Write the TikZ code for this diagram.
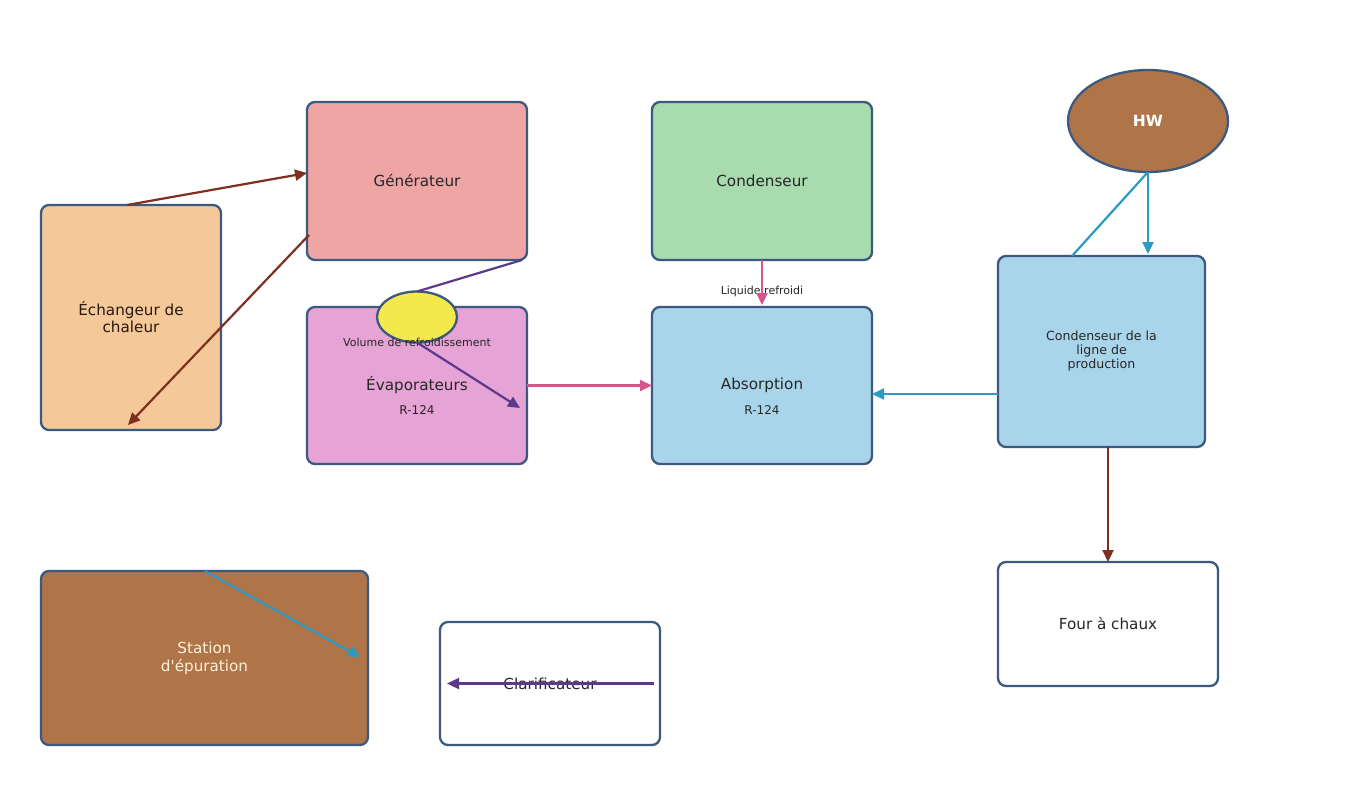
\documentclass[tikz,border=0pt]{standalone}
\usepackage{fontspec}
\setmainfont{DejaVu Sans}
\usetikzlibrary{arrows.meta,shapes.geometric}
\definecolor{edgec}{HTML}{3C5A80}
\definecolor{peach}{HTML}{F5C89A}
\definecolor{genpink}{HTML}{F0A5A5}
\definecolor{condgreen}{HTML}{A8DCAE}
\definecolor{evapc}{HTML}{E6A3D6}
\definecolor{absblue}{HTML}{A9D5EB}
\definecolor{brownfill}{HTML}{B07449}
\definecolor{yellowc}{HTML}{F3E94D}
\definecolor{brownarr}{HTML}{7D3020}
\definecolor{purpc}{HTML}{5B3A8C}
\definecolor{pinkc}{HTML}{D9548A}
\definecolor{bluearr}{HTML}{2B9AC4}
\definecolor{txt}{HTML}{262626}
\definecolor{cream}{HTML}{FFF0DC}
\newcommand{\straightquote}{\XeTeXglyph\XeTeXcharglyph"0027\relax}
\tikzset{
  box/.style={draw=edgec, line width=2.3pt, rounded corners=8pt, inner sep=0pt, outer sep=0pt,
    font=\fontsize{15.2}{17}\selectfont, text=txt, align=center},
  oval/.style={ellipse, draw=edgec, line width=2.3pt, inner sep=0pt, outer sep=0pt},
  arr/.style={line width=2.2pt, -{Triangle[length=12pt,width=11pt]}},
  plain/.style={line width=2.2pt},
  small/.style={font=\fontsize{11}{13}\selectfont, text=txt, inner sep=0pt}
}
\begin{document}
\begin{tikzpicture}[x=1pt,y=-1pt]
\useasboundingbox (0,0) rectangle (1366,793);
\fill[white] (0,0) rectangle (1366,793);

\node[box, fill=peach, minimum width=180pt, minimum height=225pt, text=black!80!brown] (ech) at (131,317.5) {Échangeur de\\chaleur};
\node[box, fill=genpink, minimum width=220pt, minimum height=158pt] (gen) at (417,181) {Générateur};
\node[box, fill=condgreen, minimum width=220pt, minimum height=158pt] (cond) at (762,181) {Condenseur};
\node[box, fill=evapc, minimum width=220pt, minimum height=157pt] (evap) at (417,385.5) {Évaporateurs};
\node[small, font=\fontsize{12}{14}\selectfont] (evapsub) at (417,410) {R-124};
\node[box, fill=absblue, minimum width=220pt, minimum height=157pt] (abs) at (762,385.5) {Absorption};
\node[small, font=\fontsize{12}{14}\selectfont] (abssub) at (762,410) {R-124};
\node[oval, fill=brownfill, minimum width=160pt, minimum height=102pt, text=white, font=\fontsize{15.5}{17}\selectfont\bfseries] (hw) at (1148,121) {HW};
\node[box, fill=absblue, minimum width=207pt, minimum height=191pt, font=\fontsize{12.6}{14}\selectfont] (cl) at (1101.5,351.5) {Condenseur de la\\ligne de\\production};
\node[box, fill=white, minimum width=220pt, minimum height=124pt] (four) at (1108,624) {Four à chaux};
\node[box, fill=brownfill, minimum width=327pt, minimum height=174pt, text=cream, font=\fontsize{15.2}{18}\selectfont] (sta) at (204.5,658) {Station\\d\straightquote épuration};
\node[box, fill=white, minimum width=220pt, minimum height=123pt] (cla) at (550,683.5) {Clarificateur};

\node[oval, fill=yellowc, minimum width=80pt, minimum height=51pt] (yel) at (417,317) {};
\node[small] (vol) at (417,342) {Volume de refroidissement};
\node[small] (liq) at (762,291) {Liquide refroidi};

\draw[arr, brownarr] ([xshift=-4pt]ech.north) -- ([yshift=8pt]gen.west);
\draw[arr, brownarr] ([xshift=2pt,yshift=-54pt]gen.west) -- ([xshift=-3pt,yshift=5pt]ech.south);
\draw[plain, purpc] ([xshift=-5pt]gen.south east) -- (yel.north);
\draw[arr, purpc] (yel.south) -- ([xshift=-7pt,yshift=-22.5pt]evap.east);
\draw[arr, pinkc] (evap.east) -- (abs.west);
\draw[arr, pinkc] (cond.south) -- ([yshift=2pt]abs.north);
\draw[arr, bluearr] ([yshift=-42.5pt]cl.west) -- ([yshift=-8.5pt]abs.east);
\draw[plain, bluearr] ([xshift=-29.5pt]cl.north) -- (hw.south);
\draw[arr, bluearr] (hw.south) -- ([xshift=46.5pt,yshift=2pt]cl.north);
\draw[arr, brownarr] ([xshift=6.5pt]cl.south) -- (four.north);
\draw[arr, bluearr] ([xshift=0.5pt]sta.north) -- ([xshift=-8pt,yshift=1pt]sta.east);
\draw[arr, purpc] ([xshift=-6pt]cla.east) -- ([xshift=7pt]cla.west);
\end{tikzpicture}
\end{document}
